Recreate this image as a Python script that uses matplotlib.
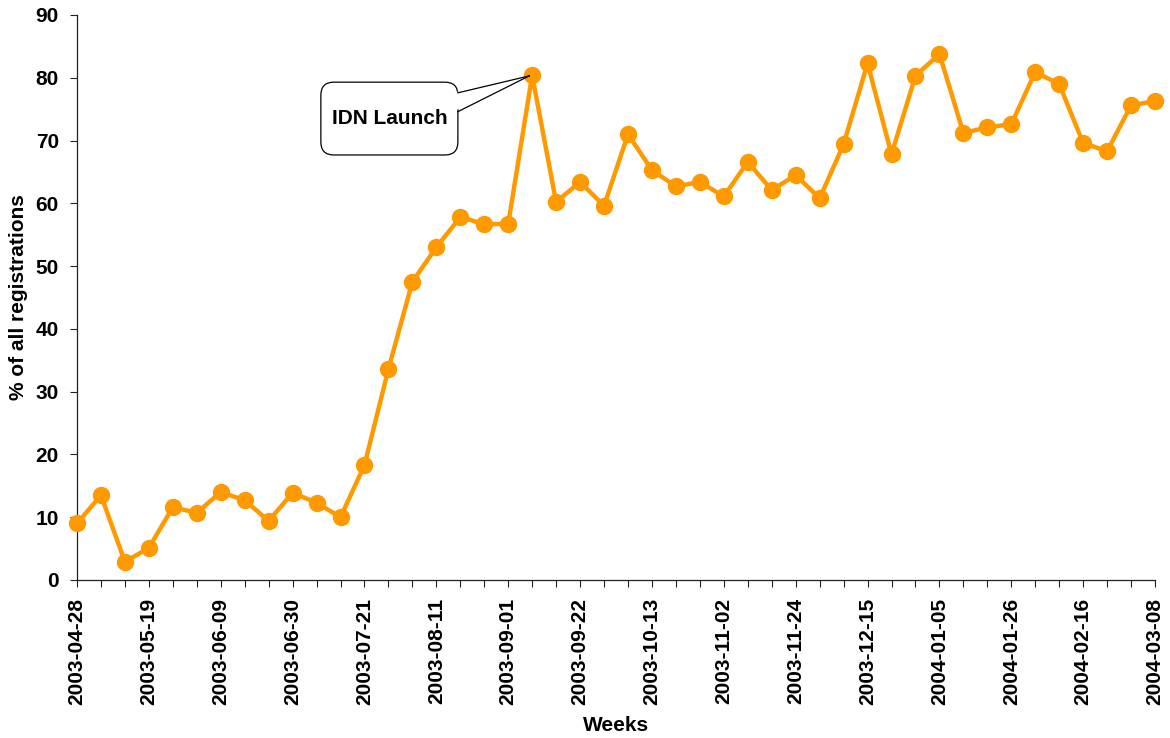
import numpy as np
import matplotlib
matplotlib.use("Agg")
import matplotlib.pyplot as plt
from matplotlib.patches import FancyBboxPatch, Polygon
from matplotlib.lines import Line2D

# weekly share of IDN registrations (%), one value per week
share = [9.0, 13.5, 2.9, 5.1, 11.6, 10.7, 14.0, 12.7, 9.4, 13.9,
         12.3, 10.0, 18.3, 33.6, 47.5, 53.0, 57.8, 56.7, 56.7, 80.4,
         60.2, 63.4, 59.6, 71.0, 65.3, 62.7, 63.4, 61.1, 66.6, 62.1,
         64.5, 60.8, 69.4, 82.3, 67.8, 80.3, 83.8, 71.2, 72.1, 72.6,
         80.9, 79.0, 69.6, 68.3, 75.6, 76.3]

# labelled weeks (every third week)
week_labels = ["2003-04-28", "2003-05-19", "2003-06-09", "2003-06-30",
               "2003-07-21", "2003-08-11", "2003-09-01", "2003-09-22",
               "2003-10-13", "2003-11-02", "2003-11-24", "2003-12-15",
               "2004-01-05", "2004-01-26", "2004-02-16", "2004-03-08"]
label_step = 3
launch_week = 19
y_ticks = [0, 10, 20, 30, 40, 50, 60, 70, 80, 90]

plt.rcParams['font.family'] = ['Liberation Sans', 'DejaVu Sans']
plt.rcParams['font.weight'] = 'bold'

orange = "#FF9900"
axis_col = "#222222"
fs = 15

fig = plt.figure(figsize=(11.7, 7.38), dpi=100)
ax = fig.add_axes([0.0658, 0.2141, 0.9214, 0.7656])

x = np.arange(len(share))
ax.plot(x, share, color=orange, lw=3.2, marker='o', ms=11.5,
        mfc=orange, mec=orange, zorder=3, clip_on=False)

ax.set_xlim(0, len(share) - 1)
ax.set_ylim(0, 90)

ax.set_xticks(x, minor=True)
ax.set_xticks(x[::label_step])
ax.set_xticklabels(week_labels, rotation=90, fontsize=fs, fontweight='bold')
ax.set_yticks(y_ticks)
ax.set_yticklabels([str(v) for v in y_ticks], fontsize=fs, fontweight='bold')

ax.tick_params(axis='x', which='both', direction='out', length=5, width=0.8,
               color=axis_col, pad=8)
ax.tick_params(axis='y', direction='out', length=5, width=0.8,
               color=axis_col, pad=8)

for side in ('top', 'right'):
    ax.spines[side].set_visible(False)
for side in ('left', 'bottom'):
    ax.spines[side].set_color(axis_col)
    ax.spines[side].set_linewidth(0.9)

ax.set_xlabel("Weeks", fontsize=fs, fontweight='bold', va='center')
ax.xaxis.set_label_coords(0.5, -0.257)
ax.set_ylabel("% of all registrations", fontsize=fs, fontweight='bold', va='center')
ax.yaxis.set_label_coords(-0.0547, 0.5)

# callout: rounded box with a wedge tail pointing at the launch week
p0 = ax.transData.transform((0, 0))
p1 = ax.transData.transform((1, 1))
sx = p1[0] - p0[0]
sy = p1[1] - p0[1]

bx0, bx1 = 10.18, 15.9
by0, by1 = 67.7, 79.3
r_px = 13
box = FancyBboxPatch((bx0, by0), bx1 - bx0, by1 - by0,
                     boxstyle="round,pad=0,rounding_size=%f" % (r_px / sx),
                     mutation_aspect=sx / sy,
                     fc="white", ec="black", lw=0.9, zorder=4)
ax.add_patch(box)

tip = (launch_week - 0.12, share[launch_week] - 0.1)
base_hi = (bx1, 77.6)
base_lo = (bx1, 74.6)
inset = 0.2
wedge = Polygon([(bx1 - inset, base_hi[1]), tip, (bx1 - inset, base_lo[1])],
                closed=True, fc="white", ec="none", zorder=5)
ax.add_patch(wedge)
for b in (base_hi, base_lo):
    ax.add_line(Line2D([b[0], tip[0]], [b[1], tip[1]], color="black",
                       lw=0.9, zorder=5))

ax.text((bx0 + bx1) / 2, (by0 + by1) / 2, "IDN Launch", ha='center',
        va='center', fontsize=fs, fontweight='bold', zorder=6)

fig.savefig("out.png", dpi=100)
